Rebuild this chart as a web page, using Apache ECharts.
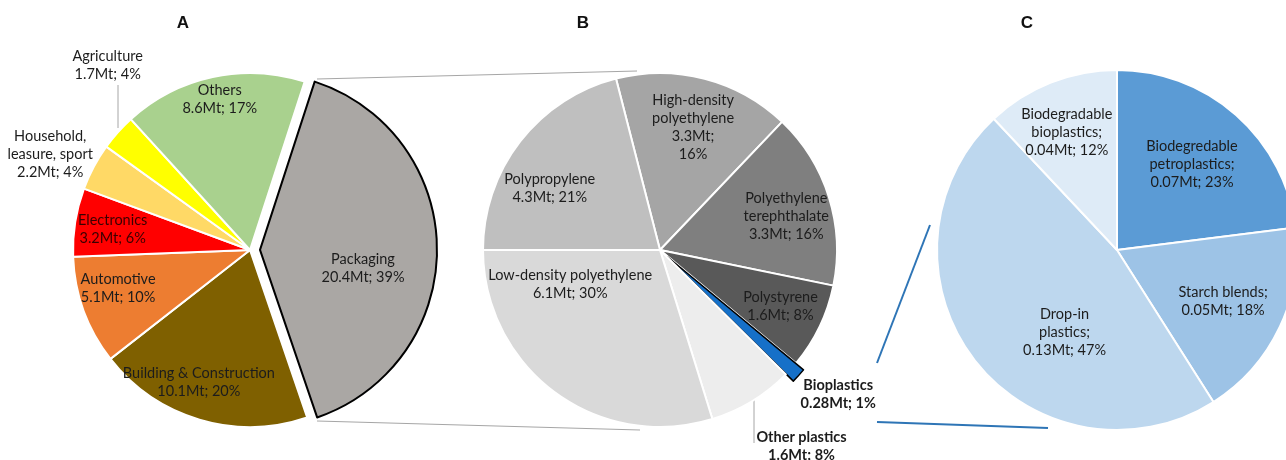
<!DOCTYPE html>
<html><head><meta charset="utf-8">
<script src="https://cdn.jsdelivr.net/npm/echarts@6/dist/echarts.min.js"></script>
<style>html,body{margin:0;padding:0;background:#fff}#c{width:1286px;height:460px}</style>
</head><body><div id="c"></div>
<script>
// ---- data ----
const titles = ['A', 'B', 'C'];

const sectorsA = ['Packaging', 'Building & Construction', 'Automotive', 'Electronics', 'Household,\nleasure, sport', 'Agriculture', 'Others'];
const mtA = [20.4, 10.1, 5.1, 3.2, 2.2, 1.7, 8.6];
const pctA = [39, 20, 10, 6, 4, 4, 17];

const polymersB = ['High-density\npolyethylene', 'Polyethylene\nterephthalate', 'Polystyrene', 'Bioplastics', 'Other plastics', 'Low-density polyethylene', 'Polypropylene'];
const mtB = [3.3, 3.3, 1.6, 0.28, 1.6, 6.1, 4.3];
const pctB = [16, 16, 8, 1, 8, 30, 21];

const typesC = ['Biodegredable\npetroplastics;', 'Starch blends;', 'Drop-in\nplastics;', 'Biodegradable\nbioplastics;'];
const mtC = [0.07, 0.05, 0.13, 0.04];
const pctC = [23, 18, 47, 12];

// ---- styles ----
const colorsA = ['#AAA7A4', '#7F6000', '#ED7D31', '#FF0000', '#FFD966', '#FFFF00', '#A9D18E'];
const colorsB = ['#A5A5A5', '#7F7F7F', '#595959', '#1670C8', '#EDEDED', '#D9D9D9', '#BFBFBF'];
const colorsC = ['#5B9BD5', '#9DC3E6', '#BDD7EE', '#DEEBF7'];
const offA = [[11.5, 19], [-25, 45], [-46, 7], [-47, -6], [-119, -53], [-74, -124], [-11, -61]];
const offB = [[10, -34], [39, -6], [38, 17], [103, 76], [94, 118], [-35.5, -39], [-38, -6]];
const offC = [[13.5, -15.5], [22, 12], [21, 25], [-16, -31]];
const FONT = 'Lato';

function labelText(name, mt, pct, wrapValue) {
  return name + '\n' + mt + 'Mt;' + (wrapValue ? '\n' : ' ') + pct + '%';
}

function buildData(names, values, mts, pcts, colors, opts) {
  return names.map(function (n, i) {
    const o = opts[i] || {};
    const item = {
      name: n,
      value: values[i],
      itemStyle: { color: colors[i], borderColor: o.border || '#fff', borderWidth: o.borderWidth || 2 },
      label: {
        formatter: labelText(n, mts[i], pcts[i], o.wrapValue),
        color: o.textColor || '#1c1c1c',
        fontWeight: o.bold ? 'bold' : 'normal'
      }
    };
    if (o.selected) {
      item.selected = true;
      item.select = { itemStyle: item.itemStyle, label: item.label };
    }
    return item;
  });
}

function pieSeries(data, center, radius, startAngle, offsets) {
  return {
    type: 'pie',
    center: center,
    radius: radius,
    startAngle: startAngle,
    clockwise: true,
    selectedMode: 'multiple',
    selectedOffset: 10,
    avoidLabelOverlap: false,
    silent: true,
    label: {
      show: true, position: 'inside', fontFamily: FONT, fontSize: 14.5, lineHeight: 18,
      align: 'center', verticalAlign: 'middle'
    },
    labelLine: { show: false },
    emphasis: { disabled: true },
    labelLayout: function (p) {
      const o = offsets[p.dataIndex];
      return { dx: o[0], dy: o[1] };
    },
    data: data
  };
}

const dataA = buildData(sectorsA, mtA, mtA, pctA, colorsA, {
  0: { border: '#000', borderWidth: 2, selected: true },
  3: { textColor: '#3a0000' }
});
const dataB = buildData(polymersB, mtB, mtB, pctB, colorsB, {
  0: { wrapValue: true },
  3: { border: '#000', borderWidth: 1.5, selected: true, bold: true },
  4: { bold: true }
});
const dataC = buildData(typesC, pctC, mtC, pctC, colorsC, {});

const grey = '#A6A6A6', blue = '#2E75B6';
const titlePos = [[183, 23], [583, 23], [1027, 23]];

const chart = echarts.init(document.getElementById('c'), null, { renderer: 'canvas' });
chart.setOption({
  animation: false,
  backgroundColor: '#fff',
  graphic: [
    { type: 'line', z: 1, shape: { x1: 317, y1: 79, x2: 637, y2: 71 }, style: { stroke: grey, lineWidth: 1 } },
    { type: 'line', z: 1, shape: { x1: 317, y1: 421, x2: 640, y2: 430 }, style: { stroke: grey, lineWidth: 1 } },
    { type: 'line', z: 1, shape: { x1: 118, y1: 85, x2: 118, y2: 128 }, style: { stroke: grey, lineWidth: 1 } },
    { type: 'line', z: 1, shape: { x1: 754, y1: 393, x2: 754, y2: 443 }, style: { stroke: grey, lineWidth: 1 } },
    { type: 'line', z: 1, shape: { x1: 877, y1: 363, x2: 930, y2: 225 }, style: { stroke: blue, lineWidth: 2 } },
    { type: 'line', z: 1, shape: { x1: 877, y1: 422, x2: 1048, y2: 428 }, style: { stroke: blue, lineWidth: 2 } }
  ].concat(titles.map(function (t, i) {
    return { type: 'text', z: 5, x: titlePos[i][0], y: titlePos[i][1],
      style: { text: t, font: 'bold 17px "Liberation Sans", Arial, sans-serif', fill: '#111', textAlign: 'center', textVerticalAlign: 'middle' } };
  })),
  series: [
    pieSeries(dataA, [250, 250], 177, 72, offA),
    pieSeries(dataB, [660, 250], 177, 104.4, offB),
    pieSeries(dataC, [1117, 250], 180, 90, offC)
  ]
});
</script></body></html>
